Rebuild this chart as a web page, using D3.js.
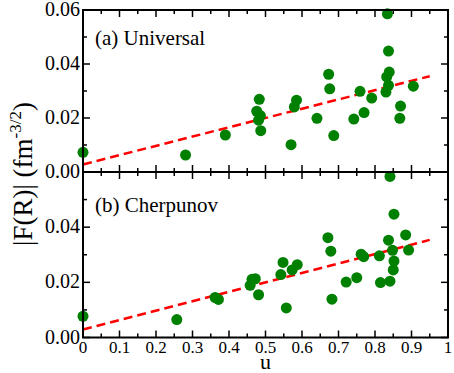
<!DOCTYPE html>
<html lang="en">
<head>
    <meta charset="UTF-8">
    <title>F(R) vs u</title>
    <script src="https://d3js.org/d3.v7.min.js"></script>
    <style>
        body { margin: 0; background: white; }
        svg text { font-family: "Liberation Serif", "DejaVu Serif", serif; }
    </style>
</head>
<body>
    <script>
        // panel (a) Universal
        const uA = [0, 0.281, 0.39, 0.483, 0.476, 0.486, 0.481, 0.487, 0.585, 0.579, 0.570, 0.641,
                    0.673, 0.676, 0.687, 0.742, 0.770, 0.759, 0.791, 0.834, 0.837, 0.839, 0.832,
                    0.837, 0.830, 0.870, 0.868, 0.905];
        const fA = [0.0073, 0.0063, 0.0137, 0.0269, 0.0225, 0.0209, 0.0192, 0.0153, 0.0266, 0.0241, 0.0101, 0.0199,
                    0.0362, 0.0308, 0.0135, 0.0196, 0.0220, 0.0299, 0.0274, 0.0586, 0.0448, 0.0370, 0.0352,
                    0.0321, 0.0296, 0.0244, 0.0199, 0.0318];
        // panel (b) Cherpunov
        const uB = [0, 0.257, 0.362, 0.371, 0.458, 0.463, 0.472, 0.481, 0.542, 0.548, 0.557, 0.573, 0.587,
                    0.671, 0.679, 0.682, 0.721, 0.750, 0.762, 0.769, 0.812, 0.815, 0.837, 0.841, 0.841,
                    0.848, 0.850, 0.852, 0.852, 0.884, 0.892];
        const fB = [0.0077, 0.0065, 0.0145, 0.0138, 0.0189, 0.0211, 0.0213, 0.0155, 0.0228, 0.0272, 0.0107, 0.0245, 0.0264,
                    0.0362, 0.0313, 0.0139, 0.0201, 0.0217, 0.0302, 0.0293, 0.0296, 0.0199, 0.0353, 0.0204, 0.0584,
                    0.0316, 0.0245, 0.0447, 0.0277, 0.0372, 0.0317];
        // linear fits (intercept, slope), drawn from u=0 to 0.95
        const fitA = [0.0028, 0.0344];
        const fitB = [0.0029, 0.0342];
        const fitRange = [0, 0.95];
        const xTicks = [0, 0.1, 0.2, 0.3, 0.4, 0.5, 0.6, 0.7, 0.8, 0.9, 1];
        const yTicksA = [0, 0.02, 0.04, 0.06];
        const yTicksB = [0, 0.02, 0.04];

        const w = 454, h = 373;
        const left = 83, right = 448;
        const svg = d3.select('body').append('svg')
            .attr('width', w)
            .attr('height', h);

        const x = d3.scaleLinear().domain([0, 1]).range([left, right]);

        function panel(top, bottom, us, fs, fit, yTicks, label, labelY) {
            const y = d3.scaleLinear().domain([0, 0.06]).range([bottom, top]);
            const g = svg.append('g');

            // ticks (inward) on all four sides
            const minorX = d3.range(0, 1.0001, 0.05);
            const minorY = d3.range(0, 0.06001, 0.01);
            const major = (v, step) => Math.abs(v / step - Math.round(v / step)) < 1e-6;

            g.selectAll('.xb').data(minorX).enter().append('line')
                .attr('x1', d => x(d)).attr('x2', d => x(d))
                .attr('y1', bottom).attr('y2', d => bottom - (major(d, 0.1) ? 7 : 4))
                .attr('stroke', 'black').attr('stroke-width', 1.5);
            g.selectAll('.xt').data(minorX).enter().append('line')
                .attr('x1', d => x(d)).attr('x2', d => x(d))
                .attr('y1', top).attr('y2', d => top + (major(d, 0.1) ? 7 : 4))
                .attr('stroke', 'black').attr('stroke-width', 1.5);
            g.selectAll('.yl').data(minorY).enter().append('line')
                .attr('y1', d => y(d)).attr('y2', d => y(d))
                .attr('x1', left).attr('x2', d => left + (major(d, 0.02) ? 7 : 4))
                .attr('stroke', 'black').attr('stroke-width', 1.5);
            g.selectAll('.yr').data(minorY).enter().append('line')
                .attr('y1', d => y(d)).attr('y2', d => y(d))
                .attr('x1', right).attr('x2', d => right - (major(d, 0.02) ? 7 : 4))
                .attr('stroke', 'black').attr('stroke-width', 1.5);

            g.selectAll('.ylab').data(yTicks).enter().append('text')
                .attr('x', left - 3)
                .attr('y', d => y(d) + 6)
                .attr('text-anchor', 'end')
                .style('font-size', '20px')
                .text(d => d.toFixed(2));

            // fit line
            g.append('line')
                .attr('x1', x(fitRange[0])).attr('y1', y(fit[0] + fit[1] * fitRange[0]))
                .attr('x2', x(fitRange[1])).attr('y2', y(fit[0] + fit[1] * fitRange[1]))
                .attr('stroke', '#ff0000')
                .attr('stroke-width', 2.5)
                .attr('stroke-dasharray', '9,5');

            g.selectAll('circle').data(us).enter().append('circle')
                .attr('cx', d => x(d))
                .attr('cy', (d, i) => y(fs[i]))
                .attr('r', 5.5)
                .attr('fill', '#008000');

            g.append('rect')
                .attr('x', left).attr('y', top)
                .attr('width', right - left).attr('height', bottom - top)
                .attr('fill', 'none').attr('stroke', 'black').attr('stroke-width', 2);

            g.append('text')
                .attr('x', 95).attr('y', labelY)
                .style('font-size', '21px')
                .text(label);
        }

        panel(10, 172, uA, fA, fitA, yTicksA, '(a) Universal', 45);
        panel(172, 337.5, uB, fB, fitB, yTicksB, '(b) Cherpunov', 212);

        svg.selectAll('.xlab').data(xTicks).enter().append('text')
            .attr('x', d => x(d))
            .attr('y', 353)
            .attr('text-anchor', 'middle')
            .style('font-size', '17px')
            .text(d => d3.format('')(d));

        svg.append('text')
            .attr('x', (left + right) / 2)
            .attr('y', 369)
            .attr('text-anchor', 'middle')
            .style('font-size', '22px')
            .text('u');

        const yTitle = svg.append('text')
            .attr('transform', 'translate(32,174) rotate(-90)')
            .attr('text-anchor', 'middle')
            .style('font-size', '27px');
        yTitle.append('tspan').text('|F(R)| (fm');
        yTitle.append('tspan').attr('dy', -11).style('font-size', '17px').text('-3/2');
        yTitle.append('tspan').attr('dy', 11).text(')');
    </script>
</body>
</html>
